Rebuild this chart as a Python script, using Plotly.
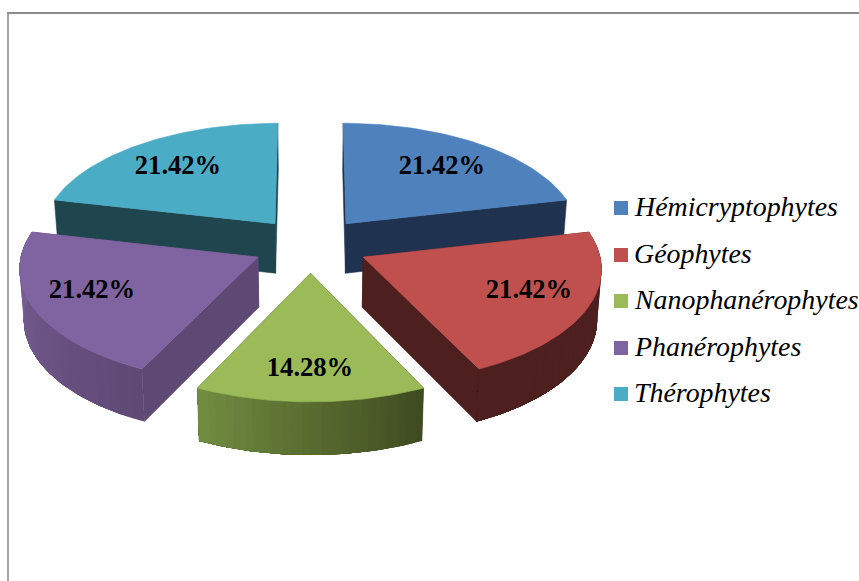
import math
import plotly.graph_objects as go

# ---- data ----
categories = ["Hémicryptophytes", "Géophytes", "Nanophanérophytes", "Phanérophytes", "Thérophytes"]
values = [21.42, 21.42, 14.28, 21.42, 21.42]
top_colors = ["#4f81bd", "#c0504d", "#9bbb59", "#8064a2", "#4bacc6"]
cut_colors = ["#1f3350", "#4d1f1e", "#3f4a20", "#5e4874", "#1f454f"]
wall_from = ["#1f3350", "#4d1f1e", "#3f4a20", "#5e4874", "#1f454f"]
wall_to = ["#1f3350", "#4d1f1e", "#728d41", "#7c6299", "#1f454f"]
label_x = [442, 529, 310, 92, 178]
label_y = [167, 291, 369, 291, 167]
legend_y = [208, 255, 301, 348, 394]

# ---- projection of the tilted pie onto the page ----
CX, CY, A, B, K = 310.5, 245.0, 235.0, 112.5, 0.0855
EXPLODE, THICK, THICK_K, SHRINK = 0.246, 50.0, 0.05, 0.985


def project(u, v, bottom=False):
    s = 1.0 / (1.0 + K * v)
    x, y = CX + A * u * s, CY - B * v * s
    if bottom:
        x, y = CX + (x - CX) * SHRINK, y + THICK * (1 - THICK_K * v)
    return x, y


def hex_mix(c1, c2, t):
    a = [int(c1[i:i + 2], 16) for i in (1, 3, 5)]
    b = [int(c2[i:i + 2], 16) for i in (1, 3, 5)]
    return "#%02x%02x%02x" % tuple(round(p + (q - p) * t) for p, q in zip(a, b))


def polygon(points, color, width=0.6):
    xs = [p[0] for p in points] + [points[0][0]]
    ys = [p[1] for p in points] + [points[0][1]]
    return go.Scatter(x=xs, y=ys, mode="lines", fill="toself", fillcolor=color,
                      line=dict(color=color, width=width), hoverinfo="skip", showlegend=False)


total = sum(values)
fig = go.Figure()
slices = []
start = 0.0
for i, val in enumerate(values):
    sweep = val / total * 2 * math.pi
    slices.append((i, start, start + sweep))
    start += sweep

for i, t0, t1 in slices[0:1] + slices[4:5] + slices[3:4] + slices[1:2] + slices[2:3]:
    mid = (t0 + t1) / 2
    ou, ov = EXPLODE * math.sin(mid), EXPLODE * math.cos(mid)
    n = 60
    thetas = [t0 + (t1 - t0) * j / n for j in range(n + 1)]
    uv = [(ou + math.sin(t), ov + math.cos(t)) for t in thetas]
    # cut faces
    for end in (uv[0], uv[-1]):
        fig.add_trace(polygon([project(ou, ov), project(*end),
                               project(*end, bottom=True), project(ou, ov, bottom=True)], cut_colors[i]))
    # rim, shaded band by band (only the slices that face the viewer)
    if math.cos(mid) < 0.3:
        bands = 24
        for b in range(bands):
            j0 = b * n // bands
            # each band runs on to the end of the rim, the next one paints over it: no seams
            col = hex_mix(wall_from[i], wall_to[i], (b + 0.5) / bands)
            top_edge = [project(*p) for p in uv[j0:]]
            bottom_edge = [project(*p, bottom=True) for p in uv[j0:]][::-1]
            fig.add_trace(polygon(top_edge + bottom_edge, col, width=0))
    # top face
    fig.add_trace(polygon([project(ou, ov)] + [project(*p) for p in uv], top_colors[i]))

# value labels
fig.add_trace(go.Scatter(x=label_x, y=label_y, mode="text",
                         text=["%.2f%%" % v for v in values],
                         textposition="middle center",
                         textfont=dict(family="Liberation Serif", size=26.6, color="black"),
                         texttemplate="<b>%{text}</b>", hoverinfo="skip", showlegend=False))

# legend
for name, col, ly in zip(categories, top_colors, legend_y):
    fig.add_trace(go.Scatter(x=[621], y=[ly], mode="markers", name=name,
                             marker=dict(symbol="square", size=14, color=col), hoverinfo="name", showlegend=False))
    fig.add_annotation(x=635, y=ly, xref="x", yref="y", text="<i>%s</i>" % name, showarrow=False,
                       xanchor="left", yanchor="middle", align="left", xshift=-3, yshift=1.5,
                       font=dict(family="Liberation Serif", size=27.9, color="black"))

# chart frame
frame = dict(color="#8c8c8c", width=2)
fig.add_shape(type="line", x0=8, x1=8, y0=13, y1=581, xref="x", yref="y", line=dict(color="#a6a6a6", width=2))
fig.add_shape(type="line", x0=7, x1=859, y0=13, y1=13, xref="x", yref="y", line=frame)

fig.update_layout(width=859, height=581, margin=dict(l=0, r=0, t=0, b=0),
                  paper_bgcolor="white", plot_bgcolor="white", showlegend=False,
                  xaxis=dict(range=[0, 859], visible=False, fixedrange=True),
                  yaxis=dict(range=[581, 0], visible=False, fixedrange=True))

fig.write_html("out.html", post_script="document.body.style.margin='0';document.body.style.overflow='hidden';",
               config={"displayModeBar": False})
